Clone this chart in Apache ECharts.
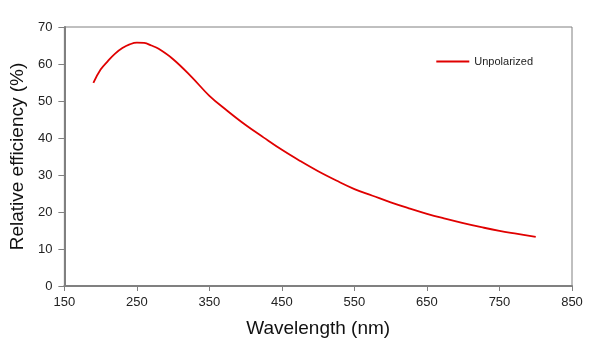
<!DOCTYPE html>
<html>
<head>
<meta charset="utf-8">
<script src="https://cdn.jsdelivr.net/npm/echarts@6/dist/echarts.min.js"></script>
<style>
  html, body { margin: 0; padding: 0; background: #fff; }
  #chart { width: 600px; height: 352px; }
</style>
</head>
<body>
<div id="chart"></div>
<script>
// wavelength (nm) and relative efficiency (%)
var wavelength = [190, 200, 210, 220, 230, 240, 250, 260, 270, 280, 300, 325, 350, 375, 400, 425, 450, 475, 500, 525, 550, 575, 600, 625, 650, 675, 700, 725, 750, 775, 800];
var unpolarized = [54.9, 58.5, 60.8, 62.8, 64.3, 65.3, 65.8, 65.7, 65.0, 64.1, 61.3, 56.6, 51.4, 47.3, 43.5, 40.1, 36.8, 33.8, 31.0, 28.5, 26.2, 24.4, 22.6, 21.0, 19.5, 18.2, 17.0, 15.9, 14.9, 14.1, 13.3];

window.onload = function () {
  var myChart = echarts.init(document.getElementById("chart"));
  var font = "Liberation Sans, Arial, sans-serif";
  var points = [];
  for (var i = 0; i < wavelength.length; i++) {
    points.push([wavelength[i], unpolarized[i]]);
  }
  var option = {
    animation: false,
    textStyle: { fontFamily: font },
    grid: {
      left: 64,
      top: 27,
      right: 28,
      bottom: 66,
      show: true,
      borderColor: "#808080",
      borderWidth: 1,
    },
    legend: {
      right: 62,
      top: 51,
      itemWidth: 33,
      itemHeight: 2,
      icon: "rect",
      textStyle: { fontSize: 11, color: "#222", fontFamily: font },
      data: ["Unpolarized"],
    },
    xAxis: {
      type: "value",
      min: 150,
      max: 850,
      interval: 100,
      name: "Wavelength (nm)",
      nameLocation: "middle",
      nameGap: 33,
      nameTextStyle: { fontSize: 19, color: "#111", fontFamily: font },
      axisLine: { lineStyle: { color: "#808080", width: 2 } },
      axisTick: { length: 5, lineStyle: { color: "#808080", width: 1 } },
      axisLabel: { fontSize: 13, color: "#222", margin: 10 },
      splitLine: { show: false },
    },
    yAxis: {
      type: "value",
      min: 0,
      max: 70,
      interval: 10,
      name: "Relative efficiency (%)",
      nameLocation: "middle",
      nameGap: 37,
      nameTextStyle: { fontSize: 19, color: "#111", fontFamily: font },
      axisLine: { lineStyle: { color: "#808080", width: 2 } },
      axisTick: { length: 6, lineStyle: { color: "#808080", width: 1 } },
      axisLabel: { fontSize: 13, color: "#222", margin: 12 },
      splitLine: { show: false },
    },
    series: [
      {
        name: "Unpolarized",
        type: "line",
        data: points,
        smooth: 0.4,
        showSymbol: false,
        lineStyle: { color: "#e00000", width: 1.8 },
        itemStyle: { color: "#e00000" },
      },
    ],
  };
  myChart.setOption(option);
};
</script>
</body>
</html>
